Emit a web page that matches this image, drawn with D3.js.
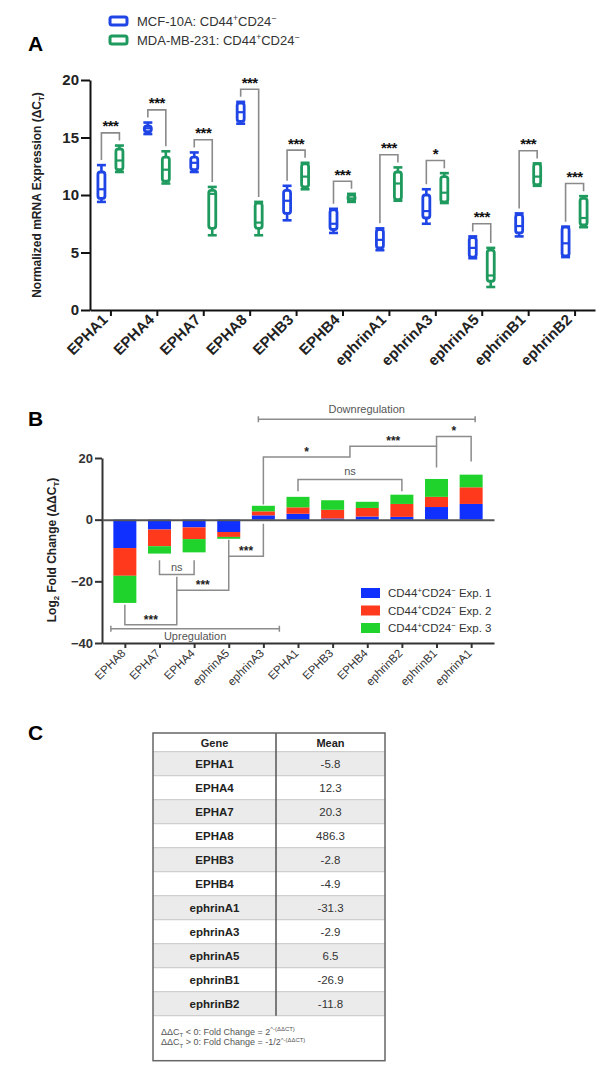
<!DOCTYPE html>
<html><head><meta charset="utf-8">
<script src="https://cdn.jsdelivr.net/npm/d3@7"></script>
<style>body{margin:0;background:#fff} svg{display:block;font-family:Arial,"Liberation Sans",Helvetica,sans-serif}</style>
</head><body><svg id="c" width="608" height="1080"></svg>
<script>
// ---------- DATA ----------
const genesA = ["EPHA1","EPHA4","EPHA7","EPHA8","EPHB3","EPHB4","ephrinA1","ephrinA3","ephrinA5","ephrinB1","ephrinB2"];
// [min, q1, median, q3, max]  normalized mRNA expression (ΔCT)
const mcf10a = [[9.4,9.7,10.5,12.0,12.6],[15.3,15.5,15.8,16.0,16.3],[12.0,12.2,12.8,13.3,13.7],[16.2,16.4,17.2,18.0,18.1],
  [7.8,8.4,9.5,10.4,10.8],[6.7,7.0,7.5,8.7,8.8],[5.2,5.4,6.1,7.0,7.1],[7.5,8.0,8.6,10.0,10.5],[4.5,4.6,5.4,6.3,6.4],
  [6.4,6.7,7.3,8.3,8.4],[4.6,4.7,5.8,7.2,7.25]];
const mda231 = [[12.0,12.2,13.0,14.0,14.3],[11.0,11.2,12.2,13.3,13.8],[6.5,7.1,10.1,10.4,10.7],[6.5,7.1,7.6,9.3,9.4],
  [10.5,10.7,11.6,12.7,12.8],[9.4,9.5,9.7,10.0,10.1],[9.5,9.6,11.0,12.0,12.4],[9.3,9.4,10.2,11.6,11.9],[2.0,2.5,3.0,5.2,5.4],
  [10.8,10.9,11.6,12.7,12.75],[7.2,7.4,8.0,9.7,9.9]];
const sigA = ["***","***","***","***","***","***","***","*","***","***","***"];
const ticksA = [0,5,10,15,20];

const genesB = ["EPHA8","EPHA7","EPHA4","ephrinA5","ephrinA3","EPHA1","EPHB3","EPHB4","ephrinB2","ephrinB1","ephrinA1"];
const exp1 = [-9.2,-3.2,-2.5,-4.0,1.4,1.9,0.4,1.0,0.9,4.1,5.1];
const exp2 = [-9.0,-5.4,-3.8,-1.6,1.3,2.1,2.8,2.8,4.2,3.3,5.4];
const exp3 = [-8.8,-2.4,-4.3,-0.6,1.8,3.4,3.1,2.0,3.0,5.8,4.1];
const seriesB = ["Exp. 1","Exp. 2","Exp. 3"];
const ticksB = [-40,-20,0,20];

const tableGenes = ["EPHA1","EPHA4","EPHA7","EPHA8","EPHB3","EPHB4","ephrinA1","ephrinA3","ephrinA5","ephrinB1","ephrinB2"];
const tableMeans = ["-5.8","12.3","20.3","486.3","-2.8","-4.9","-31.3","-2.9","6.5","-26.9","-11.8"];

// ---------- STYLE ----------
const BLUE_A = "#1f45e6", GREEN_A = "#1f9a5e";
const COLS_B = ["#1030ff","#ff3a1c","#20d22c"];
const svg = d3.select("#c");

// text with superscripts: parts = [[text, isSup], ...]
function rich(t, parts, fs){
  let shift = 0;
  parts.forEach(([s, kind])=>{
    const target = kind==="sup" ? -fs*0.38 : kind==="sub" ? fs*0.28 : 0;
    const sp = t.append("tspan").attr("dy", target - shift).text(s);
    if(kind) sp.attr("font-size", fs*0.66);
    shift = target;
  });
}

// ================= PANEL A =================
svg.append("text").attr("x",28).attr("y",51).attr("font-size",21).attr("font-weight","bold").text("A");

[["MCF-10A: CD44",BLUE_A],["MDA-MB-231: CD44",GREEN_A]].forEach((d,i)=>{
  const y = 21 + i*19;
  svg.append("rect").attr("x",110).attr("y",y-4).attr("width",17).attr("height",8).attr("rx",2)
    .attr("fill","#fff").attr("stroke",d[1]).attr("stroke-width",3);
  const t = svg.append("text").attr("x",137).attr("y",y+4.5).attr("font-size",13).attr("fill","#333");
  rich(t, [[d[0],null],["+","sup"],["CD24",null],["\u2212","sup"]], 13);
});

const yA = d3.scaleLinear().domain([0,20]).range([310,80]);
const xA = d3.scalePoint().domain(genesA).range([90,595]).padding(0.44);

const gAy = svg.append("g").attr("transform","translate(90,0)");
gAy.call(d3.axisLeft(yA).tickValues(d3.range(0,21,1)).tickSize(5).tickFormat("").tickSizeOuter(0));
gAy.call(d3.axisLeft(yA).tickValues(ticksA).tickSize(9).tickPadding(2).tickSizeOuter(0));
gAy.selectAll("path,line").attr("stroke","#111").attr("stroke-width",2);
gAy.selectAll("text").attr("font-size",15).attr("font-weight","bold").attr("fill","#222").attr("font-family","Arial,'Liberation Sans',sans-serif");

const gAx = svg.append("g").attr("transform","translate(0,310)");
gAx.call(d3.axisBottom(xA).tickSize(6).tickSizeOuter(0).tickPadding(4));
gAx.selectAll("path,line").attr("stroke","#111").attr("stroke-width",2);
gAx.selectAll("text").attr("font-size",15).attr("font-weight","bold").attr("fill","#222")
  .attr("font-family","Arial,'Liberation Sans',sans-serif")
  .attr("text-anchor","end").attr("transform","translate(-6,7) rotate(-45)").attr("dy","0.35em").attr("y",0).attr("x",0);

const yl = svg.append("text").attr("transform","translate(41,195) rotate(-90)").attr("text-anchor","middle")
  .attr("font-size",12).attr("font-weight","bold").attr("fill","#222");
rich(yl, [["Normalized mRNA Expression (\u0394C",null],["T","sub"],[")",null]], 12);

function drawBox(g, cx, v, col){
  const w = 7;
  g.append("line").attr("x1",cx).attr("x2",cx).attr("y1",yA(v[0])).attr("y2",yA(v[4])).attr("stroke",col).attr("stroke-width",2.6);
  [v[0],v[4]].forEach(c=>g.append("line").attr("x1",cx-4.5).attr("x2",cx+4.5).attr("y1",yA(c)).attr("y2",yA(c)).attr("stroke",col).attr("stroke-width",2.6));
  g.append("rect").attr("x",cx-w/2).attr("y",yA(v[3])).attr("width",w).attr("height",Math.max(0.5,yA(v[1])-yA(v[3])))
    .attr("rx",2.5).attr("fill","#fff").attr("stroke",col).attr("stroke-width",2.8);
  g.append("line").attr("x1",cx-w/2).attr("x2",cx+w/2).attr("y1",yA(v[2])).attr("y2",yA(v[2])).attr("stroke",col).attr("stroke-width",2.2);
}
const gBox = svg.append("g");
genesA.forEach((g,i)=>{
  const cx = xA(g);
  drawBox(gBox, cx-9, mcf10a[i], BLUE_A);
  drawBox(gBox, cx+9, mda231[i], GREEN_A);
  const top = Math.max(mcf10a[i][4], mda231[i][4]);
  const yb = yA(top+1.1);
  const l1 = yA(mcf10a[i][4])-5, l2 = yA(mda231[i][4])-5;
  gBox.append("path").attr("d",`M${cx-9},${l1}V${yb}H${cx+9}V${l2}`).attr("fill","none").attr("stroke","#8a8a8a").attr("stroke-width",1.6);
  gBox.append("text").attr("x",cx).attr("y",yb-1.5).attr("text-anchor","middle").attr("font-size",15).attr("font-weight","bold")
    .attr("fill","#111").attr("letter-spacing",-0.5).text(sigA[i]);
});

// ================= PANEL B =================
svg.append("text").attr("x",28).attr("y",426).attr("font-size",21).attr("font-weight","bold").text("B");

const yB = d3.scaleLinear().domain([-40,20]).range([643,458]);
const xB = d3.scalePoint().domain(genesB).range([102,494]).padding(0.66);
const barW = 23;

const rowsB = genesB.map((g,i)=>({g, "Exp. 1":exp1[i], "Exp. 2":exp2[i], "Exp. 3":exp3[i]}));
const stack = d3.stack().keys(seriesB).offset(d3.stackOffsetDiverging)(rowsB);
const gBars = svg.append("g");
stack.forEach((s,k)=>{
  gBars.selectAll(null).data(s).join("rect")
    .attr("x",d=>xB(d.data.g)-barW/2).attr("width",barW)
    .attr("y",d=>yB(Math.max(d[0],d[1]))).attr("height",d=>Math.abs(yB(d[0])-yB(d[1])))
    .attr("fill",COLS_B[k]);
});

const gBy = svg.append("g").attr("transform","translate(102,0)");
gBy.call(d3.axisLeft(yB).tickValues(d3.range(-40,21,4)).tickSize(4).tickFormat("").tickSizeOuter(0));
gBy.call(d3.axisLeft(yB).tickValues(ticksB).tickSize(7).tickPadding(2).tickSizeOuter(0));
gBy.selectAll("path,line").attr("stroke","#333").attr("stroke-width",2);
gBy.selectAll("text").attr("font-size",13).attr("font-weight","bold").attr("fill","#333").attr("font-family","Arial,'Liberation Sans',sans-serif");

const gB0 = svg.append("g").attr("transform",`translate(0,${yB(0)})`);
gB0.call(d3.axisBottom(xB).tickSize(0).tickFormat("").tickSizeOuter(0));
gB0.selectAll("path").attr("stroke","#555").attr("stroke-width",2);

const gBx = svg.append("g").attr("transform",`translate(0,${yB(-40)})`);
gBx.call(d3.axisBottom(xB).tickSize(5).tickSizeOuter(0));
gBx.selectAll("path,line").attr("stroke","#333").attr("stroke-width",2);
gBx.selectAll("text").attr("font-size",11.5).attr("fill","#333").attr("font-family","Arial,'Liberation Sans',sans-serif")
  .attr("text-anchor","end").attr("transform","translate(-2,8) rotate(-45)").attr("dy","0.35em").attr("y",0).attr("x",0);

const ylb = svg.append("text").attr("transform","translate(56,550) rotate(-90)").attr("text-anchor","middle")
  .attr("font-size",12).attr("font-weight","bold").attr("fill","#222");
rich(ylb, [["Log",null],["2","sub"],[" Fold Change (\u0394\u0394C",null],["T","sub"],[")",null]], 12);

const mid = (a,b)=>(xB(a)+xB(b))/2;
const BR = "#8c8c8c";
const gBr = svg.append("g").attr("fill","none").attr("stroke",BR).attr("stroke-width",1.5);
function pth(pts){ gBr.append("path").attr("d","M"+pts.map(p=>p[0]+","+yB(p[1])).join("L")); }
function lab(x,v,t,fs,dy){ svg.append("text").attr("x",x).attr("y",yB(v)+(dy||0)).attr("text-anchor","middle").attr("font-size",fs)
  .attr("font-weight",t==="ns"?"normal":"bold").attr("fill",t==="ns"?"#555":"#222").text(t); }
// lower brackets
pth([[xB("EPHA7"),-13.2],[xB("EPHA7"),-17.8],[xB("EPHA4"),-17.8],[xB("EPHA4"),-13.2]]);
lab(mid("EPHA7","EPHA4"),-17.8,"ns",11,-4);
pth([[xB("ephrinA5"),-6.5],[xB("ephrinA5"),-11.9],[xB("ephrinA3"),-11.9],[xB("ephrinA3"),-1.3]]);
lab(mid("ephrinA5","ephrinA3"),-11.9,"***",12,-1);
pth([[mid("EPHA7","EPHA4"),-18.5],[mid("EPHA7","EPHA4"),-22.9],[xB("ephrinA5"),-22.9],[xB("ephrinA5"),-11.9]]);
lab((mid("EPHA7","EPHA4")+xB("ephrinA5"))/2,-22.9,"***",12,-1);
pth([[xB("EPHA8"),-27.6],[xB("EPHA8"),-34.1],[mid("EPHA7","EPHA4"),-34.1],[mid("EPHA7","EPHA4"),-22.9]]);
lab((xB("EPHA8")+mid("EPHA7","EPHA4"))/2,-34.1,"***",12,-1);
// upper brackets
pth([[xB("EPHA1"),9.25],[xB("EPHA1"),13.0],[xB("ephrinB2"),13.0],[xB("ephrinB2"),9.25]]);
lab(mid("EPHA1","ephrinB2"),13.0,"ns",11,-5);
pth([[xB("ephrinA3"),4.9],[xB("ephrinA3"),20.3],[mid("EPHB3","EPHB4"),20.3],[mid("EPHB3","EPHB4"),23.8],[xB("ephrinB1"),23.8],[xB("ephrinB1"),16.9]]);
lab((xB("ephrinA3")+mid("EPHB3","EPHB4"))/2,20.3,"*",12,-1);
lab((mid("EPHB3","EPHB4")+xB("ephrinB1"))/2,23.8,"***",12,-1);
pth([[xB("ephrinB1"),23.8],[xB("ephrinB1"),27.0],[xB("ephrinA1"),27.0],[xB("ephrinA1"),18.9]]);
lab(mid("ephrinB1","ephrinA1"),27.0,"*",12,-1);
function span(x1,x2,v,t,below){
  pth([[x1,v],[x2,v]]);
  gBr.append("path").attr("d",`M${x1},${yB(v)-3}V${yB(v)+3}M${x2},${yB(v)-3}V${yB(v)+3}`);
  svg.append("text").attr("x",(x1+x2)/2).attr("y",yB(v)+(below?11:-6)).attr("text-anchor","middle").attr("font-size",11).attr("fill","#555").text(t);
}
span(xB("ephrinA3")-5, xB("ephrinA1")+4, 32.6, "Downregulation", false);
span(xB("EPHA8")-14, xB("ephrinA3")+16, -35.4, "Upregulation", true);

seriesB.forEach((s,k)=>{
  const y = 593 + k*17.5;
  svg.append("rect").attr("x",361).attr("y",y-5).attr("width",19).attr("height",10).attr("fill",COLS_B[k]);
  const t = svg.append("text").attr("x",388).attr("y",y+4).attr("font-size",11.5).attr("fill","#333");
  rich(t, [["CD44",null],["+","sup"],["CD24",null],["\u2212","sup"],[" "+s,null]], 11.5);
});

// ================= PANEL C =================
svg.append("text").attr("x",28).attr("y",740).attr("font-size",21).attr("font-weight","bold").text("C");
const tx0 = 153, tx1 = 385, tdiv = 276, ty0 = 733, hdrH = 18.7, rowH = 24, footH = 45;
const gT = svg.append("g");
const rowY = d3.scaleLinear().domain([0,1]).range([ty0+hdrH, ty0+hdrH+rowH]);
tableGenes.forEach((g,i)=>{
  gT.append("rect").attr("x",tx0).attr("y",rowY(i)).attr("width",tx1-tx0).attr("height",rowH).attr("fill",i%2===0?"#ebebeb":"#fff");
  gT.append("line").attr("x1",tx0).attr("x2",tx1).attr("y1",rowY(i)).attr("y2",rowY(i)).attr("stroke","#cfcfcf").attr("stroke-width",1.2);
  gT.append("text").attr("x",(tx0+tdiv)/2).attr("y",rowY(i)+rowH/2+4).attr("text-anchor","middle").attr("font-size",11.5).attr("font-weight","bold").attr("fill","#222").text(g);
  gT.append("text").attr("x",(tdiv+tx1)/2).attr("y",rowY(i)+rowH/2+4).attr("text-anchor","middle").attr("font-size",11.5).attr("fill","#333").text(tableMeans[i]);
});
const tyEnd = rowY(tableGenes.length);
gT.append("line").attr("x1",tx0).attr("x2",tx1).attr("y1",tyEnd).attr("y2",tyEnd).attr("stroke","#cfcfcf").attr("stroke-width",1.2);
gT.append("text").attr("x",(tx0+tdiv)/2).attr("y",ty0+13.5).attr("text-anchor","middle").attr("font-size",11).attr("font-weight","bold").attr("fill","#222").text("Gene");
gT.append("text").attr("x",(tdiv+tx1)/2).attr("y",ty0+13.5).attr("text-anchor","middle").attr("font-size",11).attr("font-weight","bold").attr("fill","#222").text("Mean");
gT.append("line").attr("x1",tdiv).attr("x2",tdiv).attr("y1",ty0).attr("y2",tyEnd).attr("stroke","#555").attr("stroke-width",1.5);
gT.append("rect").attr("x",tx0).attr("y",ty0).attr("width",tx1-tx0).attr("height",tyEnd+footH-ty0).attr("fill","none").attr("stroke","#666").attr("stroke-width",1.5);
[[" < 0: Fold Change = 2"],[" > 0: Fold Change = -1/2"]].forEach((f,i)=>{
  const t = gT.append("text").attr("x",tx0+8).attr("y",tyEnd+19+i*10.5).attr("font-size",9).attr("fill","#555");
  rich(t, [["\u0394\u0394C",null],["T","sub"],[f[0],null],["^-(\u0394\u0394CT)","sup"]], 9);
});
</script></body></html>
